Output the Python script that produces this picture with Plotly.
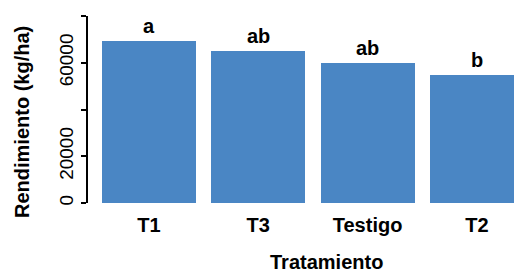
import plotly.graph_objects as go

categories = ["T1", "T3", "Testigo", "T2"]
rendimiento = [69300, 65000, 59900, 54800]
letras = ["a", "ab", "ab", "b"]
y_tickvals = [0, 20000, 40000, 60000, 80000]
y_ticktext = ["0", "20000", "", "60000", ""]

FONT = "Liberation Sans"
W, H = 514, 272
ML, MR, MT, MB = 88, 0, 16, 69

fig = go.Figure()
fig.add_trace(go.Bar(
    x=categories, y=rendimiento,
    marker=dict(color="#4a86c4", line=dict(width=0)),
    width=0.86,
))

for c, v, t in zip(categories, rendimiento, letras):
    fig.add_annotation(x=c, y=v, text=t, showarrow=False, yanchor="bottom",
                       yshift=2, font=dict(family=FONT, size=20, color="black", weight="bold"))

pw = W - ML - MR
ph = H - MT - MB
fig.add_annotation(xref="paper", yref="paper", x=(22 - ML) / pw, y=(MT + ph - 122) / ph,
                   text="Rendimiento (kg/ha)", textangle=-90, showarrow=False,
                   xanchor="center", yanchor="middle",
                   font=dict(family=FONT, size=20, color="black", weight="bold"))
fig.add_annotation(xref="paper", yref="paper", x=(326 - ML) / pw, y=(MT + ph - 262) / ph,
                   text="Tratamiento", showarrow=False,
                   xanchor="center", yanchor="middle",
                   font=dict(family=FONT, size=20, color="black", weight="bold"))

fig.update_layout(
    width=W, height=H,
    margin=dict(l=ML, r=MR, t=MT, b=MB),
    plot_bgcolor="white", paper_bgcolor="white",
    showlegend=False,
    bargap=0,
    xaxis=dict(range=[-0.558, 3.34], showline=False, showgrid=False, zeroline=False,
               ticks="", ticklabelstandoff=8,
               tickfont=dict(family=FONT, size=20, color="black", weight="bold")),
    yaxis=dict(range=[0, 80000], tickvals=y_tickvals, ticktext=y_ticktext,
               showline=True, linecolor="black", linewidth=2,
               ticks="outside", ticklen=5, tickwidth=2, tickcolor="black",
               tickangle=-90, showgrid=False, zeroline=False,
               tickfont=dict(family=FONT, size=19, color="black")),
)

fig.write_html("out.html", config={"displayModeBar": False},
               post_script="document.body.style.margin='0';document.body.style.overflow='hidden';")
